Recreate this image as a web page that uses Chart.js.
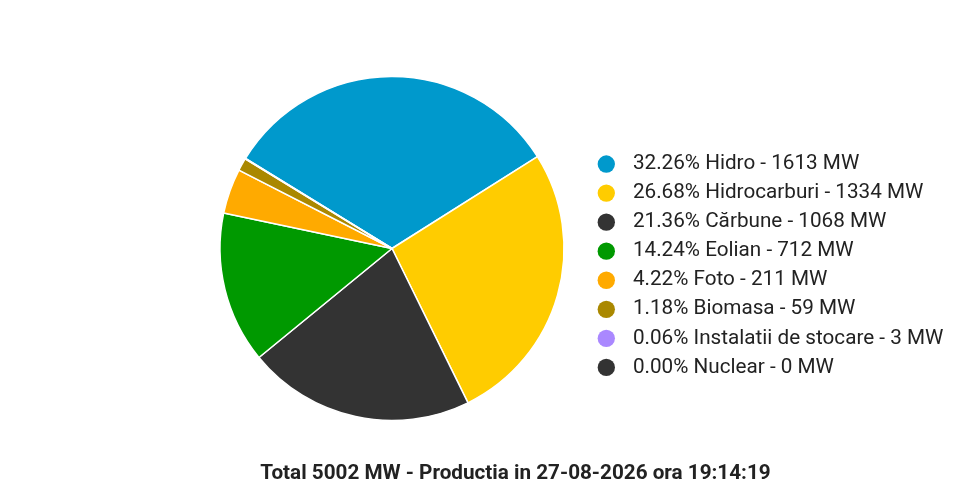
<!DOCTYPE html>
<html>
<head>
<meta charset="utf-8">
<script src="https://cdn.jsdelivr.net/npm/chart.js@4.4.1/dist/chart.umd.min.js"></script>
<style>
    html, body { margin: 0; padding: 0; background: #fff; }
    #wrap { width: 970px; height: 498px; position: relative; }
</style>
</head>
<body>
<div id="wrap">
    <canvas id="productionChart"></canvas>
</div>
<script>
    // values
    const sources = ['Hidro', 'Hidrocarburi', 'Cărbune', 'Eolian', 'Foto', 'Biomasa', 'Instalatii de stocare', 'Nuclear'];
    const megawatts = [1613, 1334, 1068, 712, 211, 59, 3, 0];
    const percents = ['32.26', '26.68', '21.36', '14.24', '4.22', '1.18', '0.06', '0.00'];
    const colors = ['#0099cc', '#ffcc00', '#333333', '#009900', '#ffaa00', '#aa8800', '#aa88ff', '#333333'];
    const totalMW = 5002;
    const stamp = '27-08-2026 ora 19:14:19';

    Chart.defaults.font.family = 'Roboto';
    Chart.defaults.color = '#222';

    const fontSize = 20.7;
    const rowGap = 8.36;
    const dotBox = 12;
    const legendText = sources.map((name, i) => '  ' + percents[i] + '% ' + name + ' - ' + megawatts[i] + ' MW');

    // legend sits at a fixed left edge, so work out how wide chart.js will make it
    const legendLeft = 606.3 - rowGap - dotBox / 2;
    const pieCenterX = 392;
    const titleCenterX = 515.5;
    const measure = document.createElement('canvas').getContext('2d');
    measure.font = fontSize + 'px Roboto';
    const longest = Math.max(...legendText.map(t => measure.measureText(t).width));
    const legendW = rowGap + dotBox + fontSize / 2 + longest + 10;
    const padRight = 970 - legendLeft - legendW;
    const padLeft = 2 * titleCenterX - 970 + padRight;
    const spacer = (2 * pieCenterX - legendLeft) - padLeft;

    const ctx = document.getElementById('productionChart').getContext('2d');
    new Chart(ctx, {
        type: 'pie',
        data: {
            labels: sources,
            datasets: [{
                data: megawatts,
                backgroundColor: colors,
                borderColor: '#ffffff',
                borderWidth: 1.5,
                radius: 172
            }]
        },
        options: {
            responsive: true,
            maintainAspectRatio: false,
            animation: false,
            rotation: 301.6,
            events: [],
            layout: {
                padding: { left: padLeft, right: padRight, top: 57, bottom: 6.5 }
            },
            plugins: {
                tooltip: { enabled: false },
                legend: {
                    position: 'right',
                    align: 'start',
                    maxWidth: 600,
                    title: {
                        display: true,
                        text: ' ',
                        font: { size: 10 },
                        padding: 38.15
                    },
                    labels: {
                        usePointStyle: true,
                        boxWidth: dotBox,
                        boxHeight: 12.26,
                        padding: rowGap,
                        color: '#222',
                        font: { size: fontSize },
                        generateLabels: chart => sources.map((name, i) => ({
                            text: legendText[i],
                            fillStyle: colors[i],
                            strokeStyle: colors[i],
                            lineWidth: 0,
                            pointStyle: 'circle',
                            hidden: false,
                            index: i
                        }))
                    }
                },
                // empty box on the left, only to push the pie over
                subtitle: {
                    display: true,
                    position: 'left',
                    fullSize: false,
                    text: ' ',
                    font: { size: 10 },
                    padding: { top: (spacer - 12) / 2, bottom: (spacer - 12) / 2 }
                },
                title: {
                    display: true,
                    position: 'bottom',
                    text: 'Total ' + totalMW + ' MW - Productia in ' + stamp,
                    color: '#222',
                    font: { size: fontSize, weight: 'bold' },
                    padding: { top: 21.08, bottom: 5.58 }
                }
            }
        }
    });
</script>
</body>
</html>
